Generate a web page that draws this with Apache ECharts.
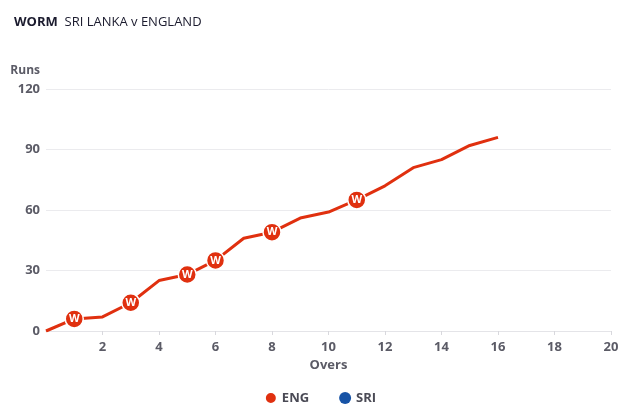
<!DOCTYPE html>
<html>
<head>
<meta charset="utf-8">
<script src="https://cdn.jsdelivr.net/npm/echarts@6/dist/echarts.min.js"></script>
<style>
html,body{margin:0;padding:0;background:#fff;}
#c{width:640px;height:414px;}
</style>
</head>
<body>
<div id="c"></div>
<script>
var overs = [0,1,2,3,4,5,6,7,8,9,10,11,12,13,14,15,16];
var engRuns = [0,6,7,14,25,28,35,46,49,56,59,65,72,81,85,92,96];
var engWickets = [1,3,5,6,8,11];
var sriRuns = [];
var yTicks = [0,30,60,90,120];
var xTicks = [2,4,6,8,10,12,14,16,18,20];

var RED = '#e0300f';
var BLUE = '#1753a6';
var FONT = '"Open Sans", "Noto Sans", sans-serif';

var engData = overs.map(function(o, i){
  var isW = engWickets.indexOf(o) >= 0;
  return {
    value: [o, engRuns[i]],
    symbol: isW ? 'circle' : 'none',
    symbolSize: isW ? 18 : 0,
    label: {show: isW}
  };
});

var chart = echarts.init(document.getElementById('c'), null, {renderer:'canvas'});
chart.setOption({
  animation: false,
  backgroundColor: '#fff',
  title: {
    text: '{b|WORM}  SRI LANKA v ENGLAND',
    left: 14, top: 16, padding: 0,
    textStyle: {
      fontFamily: FONT, fontSize: 13, fontWeight: 'normal', color: '#1b1b2e',
      rich: { b: {fontFamily: FONT, fontSize: 13, fontWeight: 'bold', color: '#1b1b2e'} }
    }
  },
  legend: {
    bottom: 4, left: 'center', itemGap: 30,
    icon: 'circle', itemWidth: 12, itemHeight: 12,
    textStyle: {fontFamily: FONT, fontSize: 13, fontWeight: 'bold', color: '#4a4a55'},
    data: ['ENG', 'SRI']
  },
  grid: {left: 46, right: 29, top: 89, bottom: 83, containLabel: false},
  xAxis: {
    type: 'value', min: 0, max: 20, interval: 2,
    name: 'Overs', nameLocation: 'middle', nameGap: 27,
    nameTextStyle: {fontFamily: FONT, fontSize: 13, fontWeight: 'bold', color: '#5b5b66'},
    axisLine: {show: true, lineStyle: {color: '#e4e4e8'}},
    axisTick: {show: true, length: 4, lineStyle: {color: '#d8d8dd'}},
    axisLabel: {
      showMinLabel: false, margin: 10,
      fontFamily: FONT, fontSize: 13, fontWeight: 'bold', color: '#5b5b66',
      formatter: function(v){ return xTicks.indexOf(v) >= 0 ? String(v) : ''; }
    },
    splitLine: {show: false}
  },
  yAxis: {
    type: 'value', min: 0, max: 120, interval: 30,
    name: 'Runs', nameLocation: 'end', nameGap: 12,
    nameTextStyle: {fontFamily: FONT, fontSize: 12, fontWeight: 'bold', color: '#5b5b66', align: 'right', padding: [0, 6, 0, 0]},
    axisLine: {show: false}, axisTick: {show: false},
    axisLabel: {
      margin: 6, fontFamily: FONT, fontSize: 13, fontWeight: 'bold', color: '#5b5b66',
      formatter: function(v){ return yTicks.indexOf(v) >= 0 ? String(v) : ''; }
    },
    splitLine: {lineStyle: {color: '#ebebee', width: 1}}
  },
  series: [
    {
      name: 'ENG', type: 'line', data: engData,
      color: RED,
      lineStyle: {color: RED, width: 3},
      itemStyle: {color: RED, borderColor: '#fff', borderWidth: 1.5},
      label: {
        position: 'inside', formatter: 'W',
        fontFamily: FONT, fontSize: 11, fontWeight: 'bold', color: '#fff'
      },
      showAllSymbol: true,
      z: 3
    },
    {
      name: 'SRI', type: 'line', data: sriRuns,
      color: BLUE,
      lineStyle: {color: BLUE, width: 3},
      itemStyle: {color: BLUE}
    }
  ]
});
</script>
</body>
</html>
